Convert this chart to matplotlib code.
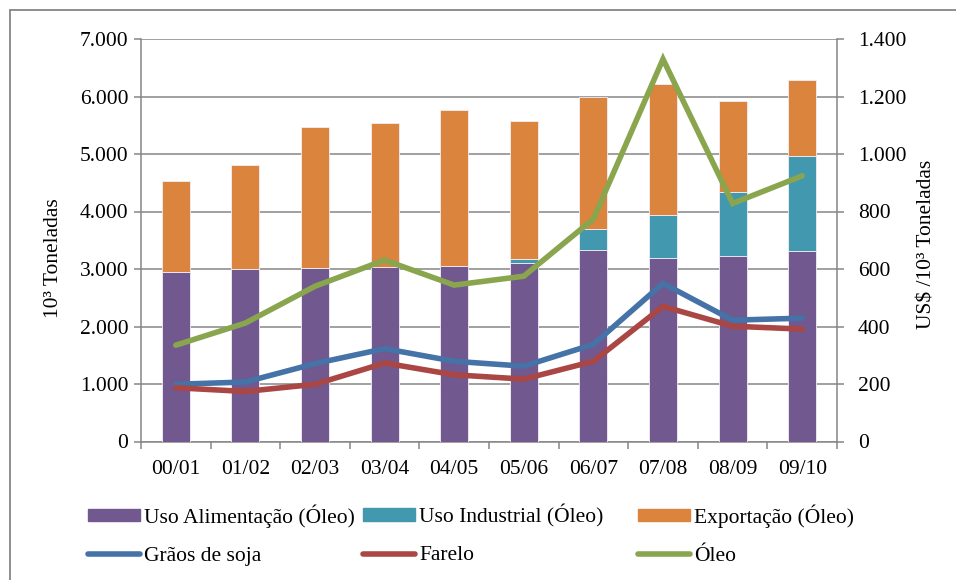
import matplotlib
matplotlib.use("Agg")
import matplotlib.pyplot as plt
import numpy as np
from matplotlib.lines import Line2D
from matplotlib.patches import Patch, Rectangle
from matplotlib.ticker import FuncFormatter, FixedLocator

plt.rcParams["font.family"] = ["Liberation Serif", "DejaVu Serif"]

safras = ["00/01", "01/02", "02/03", "03/04", "04/05",
          "05/06", "06/07", "07/08", "08/09", "09/10"]

# consumo e exportação de óleo (10^3 t)
uso_alimentacao = [2956, 3003, 3020, 3043, 3060, 3113, 3333, 3193, 3228, 3305]
uso_industrial = [0, 0, 0, 0, 0, 63, 355, 739, 1105, 1655]
exportacao = [1579, 1800, 2450, 2497, 2700, 2404, 2300, 2288, 1590, 1329]

# preços (US$ / 10^3 t)
graos_soja = [199, 207, 271, 323, 279, 262, 338, 550, 422, 429]
farelo = [187, 174, 199, 273, 232, 217, 279, 470, 401, 391]
oleo = [335, 412, 540, 631, 544, 575, 774, 1330, 828, 924]

c_alim = "#71588F"
c_ind = "#4198AF"
c_exp = "#DB843D"
c_graos = "#4572A7"
c_farelo = "#AA4643"
c_oleo = "#89A54E"
cinza = "#868686"
fs = 15.5

fig = plt.figure(figsize=(9.56, 5.8), dpi=100)
ax = fig.add_axes([141 / 956, 1 - 441.5 / 580, 696 / 956, 402.5 / 580])
ax2 = ax.twinx()

x = np.arange(len(safras))
w = 0.4
base_ind = np.array(uso_alimentacao)
base_exp = base_ind + np.array(uso_industrial)
bar_kw = dict(width=w, edgecolor="#f2eef6", linewidth=0.6, zorder=3)
ax.bar(x, uso_alimentacao, color=c_alim, **bar_kw)
ax.bar(x, uso_industrial, bottom=base_ind, color=c_ind, **bar_kw)
ax.bar(x, exportacao, bottom=base_exp, color=c_exp, **bar_kw)

line_kw = dict(linewidth=4, solid_capstyle="round", solid_joinstyle="miter")
ax2.plot(x, graos_soja, color=c_graos, **line_kw)
ax2.plot(x, farelo, color=c_farelo, **line_kw)
ax2.plot(x, oleo, color=c_oleo, **line_kw)

fmt = FuncFormatter(lambda v, p: f"{v:,.0f}".replace(",", "."))

ax.set_xlim(-0.5, len(safras) - 0.5)
ax.set_ylim(0, 7000)
ax.set_yticks(np.arange(0, 7001, 1000))
ax.yaxis.set_major_formatter(fmt)
ax.grid(axis="y", color=cinza, linewidth=1.1, zorder=0)
ax.set_axisbelow(True)

ax2.set_ylim(0, 1400)
ax2.set_yticks(np.arange(0, 1401, 200))
ax2.yaxis.set_major_formatter(fmt)

# rótulos no centro das categorias, marcas entre elas
ax.set_xticks(x)
ax.set_xticklabels(safras)
ax.xaxis.set_minor_locator(FixedLocator(np.arange(-0.5, len(safras), 1)))
ax.tick_params(axis="x", which="major", length=0, pad=13, labelsize=fs)
ax.tick_params(axis="x", which="minor", length=5, width=1.1, color=cinza)
ax.tick_params(axis="y", length=5, width=1.1, color=cinza, pad=4, labelsize=fs)
ax2.tick_params(axis="y", length=5, width=1.1, color=cinza, pad=10, labelsize=fs)

for a in (ax, ax2):
    a.spines["top"].set_visible(False)
    for s in ("left", "right", "bottom"):
        a.spines[s].set_color(cinza)
        a.spines[s].set_linewidth(1.1)
ax.spines["right"].set_visible(False)
ax2.spines["left"].set_visible(False)
ax2.spines["bottom"].set_visible(False)

fig.text(53 / 956, 1 - 258 / 580, "10³ Toneladas", rotation=90,
         ha="center", va="center", fontsize=fs)
fig.text(927 / 956, 1 - 244 / 580, "US$ /10³ Toneladas", rotation=90,
         ha="center", va="center", fontsize=fs)

# legenda em três colunas de largura fixa
colunas = [
    (88, [Patch(color=c_alim), Line2D([], [], color=c_graos, lw=4, solid_capstyle="round")],
     ["Uso Alimentação (Óleo)", "Grãos de soja"]),
    (363, [Patch(color=c_ind), Line2D([], [], color=c_farelo, lw=4, solid_capstyle="round")],
     ["Uso Industrial (Óleo)", "Farelo"]),
    (638, [Patch(color=c_exp), Line2D([], [], color=c_oleo, lw=4, solid_capstyle="round")],
     ["Exportação (Óleo)", "Óleo"]),
]
for px, handles, labels in colunas:
    fig.legend(handles, labels, loc="upper left",
               bbox_to_anchor=(px / 956, 1 - 504 / 580),
               frameon=False, fontsize=fs, borderpad=0, borderaxespad=0,
               handlelength=2.4, handleheight=0.5, handletextpad=0.2,
               labelspacing=0.9)

fig.patches.append(Rectangle((10 / 956, -0.1), 1.5, 0.1 + 570 / 580,
                             transform=fig.transFigure, fill=False,
                             edgecolor=cinza, linewidth=1.3))

fig.savefig("out.png", dpi=100, facecolor="white")
